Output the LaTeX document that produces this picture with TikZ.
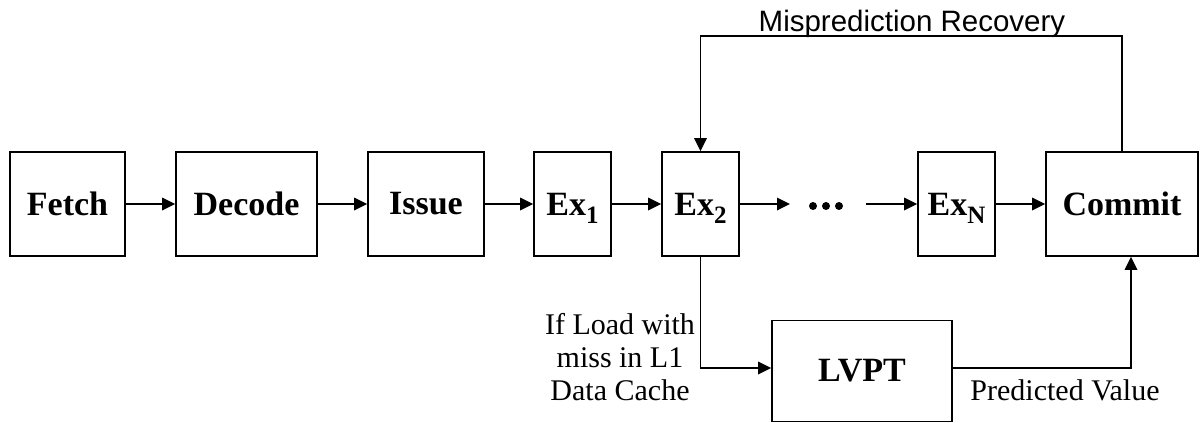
\documentclass[tikz,border=0pt]{standalone}
\usepackage{fontspec}
\setmainfont{Liberation Serif}
\newfontfamily\labelsans{Liberation Sans}
\usetikzlibrary{arrows.meta}
% subscript for the execute stages (kept out of the node's height)
\newcommand\stagesub[1]{\raisebox{-8pt}[0pt][0pt]{\fontsize{25}{25}\selectfont #1}}
\begin{document}
\begin{tikzpicture}[x=1pt,y=-1pt,line width=1.8pt,
  stage/.style={draw,line width=1.8pt,minimum height=104pt,inner sep=0pt,
    font=\fontsize{34}{40}\selectfont\bfseries},
  flow/.style={-{Triangle[length=13pt,width=12.5pt]},line width=1.8pt},
  dot/.style={circle,fill,inner sep=0pt,minimum size=8pt},
  note/.style={font=\fontsize{30}{33}\selectfont}]
\useasboundingbox (0,0) rectangle (1200,423);

% pipeline stages
\node[stage,minimum width=115pt] (fetch)  at (67.5,204)  {Fetch};
\node[stage,minimum width=141pt] (decode) at (246.5,204) {Decode};
\node[stage,minimum width=116pt] (issue)  at (426,204)   {Issue};
\node[stage,minimum width=77pt]  (ex1)    at (572.5,204) {Ex\stagesub{1}};
\node[stage,minimum width=77pt]  (ex2)    at (700.5,204) {Ex\stagesub{2}};
\node[stage,minimum width=77pt]  (exn)    at (956.5,204) {Ex\stagesub{N}};
\node[stage,minimum width=152pt] (commit) at (1122,204)  {Commit};
\node[stage,minimum width=180pt,minimum height=101pt] (lvpt) at (862,371) {LVPT};

% elided stages
\node[dot] (d1) at (813,206) {};
\node[dot] (d2) at (826,206) {};
\node[dot] (d3) at (839,206) {};
\coordinate (dotsin)  at (790,204);
\coordinate (dotsout) at (866,204);

% forward flow
\draw[flow] (fetch)  -- (decode);
\draw[flow] (decode) -- (issue);
\draw[flow] (issue)  -- (ex1);
\draw[flow] (ex1)    -- (ex2);
\draw[flow] (ex2)    -- (dotsin);
\draw[flow] (dotsout) -- (exn);
\draw[flow] (exn)    -- (commit);

% recovery path back to Ex2
\draw[flow] (commit.north) -- ++(0,-115) -| (ex2.north);
\node[anchor=base,font=\labelsans\fontsize{29.5}{34}\selectfont] (recov) at (912,31) {Misprediction Recovery};

% value prediction path
\draw[flow] (ex2.south) |- ([yshift=3pt]lvpt.west);
\draw[flow] ([yshift=3pt]lvpt.east) -| ([xshift=9pt]commit.south);
\node[note,align=center] (loadlbl) at (620,357) {If Load with\\miss in L1\\Data Cache};
\node[note,anchor=base] (predlbl) at (1065,400) {Predicted Value};
\end{tikzpicture}
\end{document}
